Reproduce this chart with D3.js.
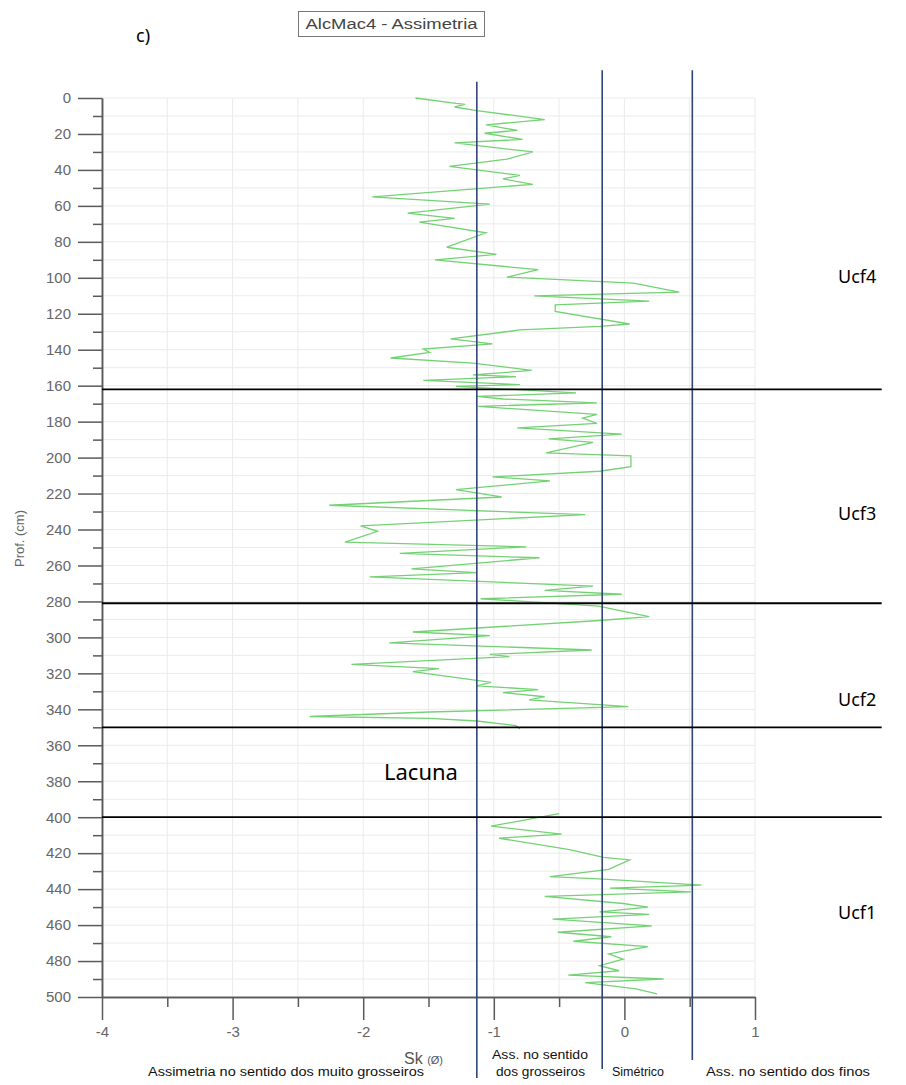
<!DOCTYPE html>
<html>
<head>
<meta charset="utf-8">
<title>AlcMac4 - Assimetria</title>
<script src="https://d3js.org/d3.v7.min.js"></script>
<style>
  body { margin: 0; background: #fff; }
</style>
</head>
<body>
<div id="chart"></div>
<script>
// profundidade (cm) e assimetria Sk - trecho superior (Ucf4..Ucf2)
const depthTop = [0,3,3.5,5,7,12,15,18,19.6,23,25,30,34,38,43,45,48,55,59,64,67,69,75,83,87,90,95.5,99.6,
  103,108,110,113,115,118.7,125.7,127,129,134,136.7,139.6,141.5,144.6,147.4,151.5,154,155,157,159.4,160.4,
  164,166,167.4,169.6,171.5,176,178,181,183.5,187,189.6,191.5,197.4,199,205,207.6,210.7,213,217.8,221.9,
  226.5,231.7,238,241,247,249.6,253.3,255.7,261.9,264,266.3,271.5,273.9,276,278.5,282.6,288.5,290.6,297,
  299,303,307,309.4,310.7,315,317.4,319,325,327,329,330.7,333,334.8,338.5,341.5,344,345,346.5,349,351];
const skTop = [-1.60,-1.29,-1.22,-1.30,-1.13,-0.61,-1.06,-0.82,-1.07,-0.78,-1.30,-0.70,-0.90,-1.34,-0.80,-0.93,
  -0.70,-1.93,-1.03,-1.66,-1.30,-1.57,-1.06,-1.36,-0.98,-1.45,-0.66,-0.90,
  0.07,0.42,-0.69,0.19,-0.53,-0.53,0.04,-0.19,-0.80,-1.33,-1.01,-1.54,-1.49,-1.79,-1.16,-0.71,-1.16,-0.83,
  -1.54,-0.80,-1.29,-0.37,-1.13,-0.93,-0.21,-1.12,-0.21,-0.32,-0.21,-0.82,-0.02,-0.58,-0.24,-0.60,0.05,0.05,
  -0.19,-1.01,-0.57,-1.29,-0.94,-2.26,-0.30,-2.02,-1.89,-2.14,-0.75,-1.72,-0.65,-1.63,-1.13,-1.95,-0.24,
  -0.61,-0.02,-1.10,-0.20,0.19,-0.19,-1.62,-1.03,-1.80,-0.25,-1.03,-0.88,-2.09,-1.42,-1.62,-1.02,-1.13,
  -0.66,-0.93,-0.61,-0.73,0.03,-1.49,-2.41,-1.49,-1.13,-0.83,-0.80];

// trecho inferior (Ucf1)
const depthBottom = [398,405,409.4,411.7,418,422.4,423.7,429,433,434.4,437.8,439.4,441.5,444,448,450,452.6,
  454,456.7,460.4,464,466.5,469,472,476,479,482.6,485.4,487.8,490,492,495.5,498.3];
const skBottom = [-0.50,-1.02,-0.48,-0.96,-0.42,-0.16,0.04,-0.12,-0.57,-0.16,0.59,-0.11,0.51,-0.61,-0.01,0.18,
  -0.19,0.19,-0.55,0.21,-0.51,-0.10,-0.39,0.18,-0.12,-0.01,-0.19,-0.04,-0.43,0.30,-0.30,0.09,0.25];

// limites de classe (linhas azuis) e limites das unidades (linhas pretas)
const classLimits = [-1.13, -0.17, 0.52];
const classTop = [-9, -15.5, -15.5];
const classBottom = [545, 540, 535];
const unitLimits = [162, 281, 350, 400];
const unitNames = ["Ucf4", "Ucf3", "Ucf2", "Ucf1"];
const unitLabelDepth = [99, 231, 334, 453];

const xTicks = [-4, -3, -2, -1, 0, 1];
const yTicks = d3.range(0, 501, 20);

const W = 906, H = 1085;
const svg = d3.select("#chart").append("svg")
    .attr("width", W).attr("height", H)
    .style("font-family", "'Liberation Sans', Arial, sans-serif");

const x = d3.scaleLinear().domain([-4, 1]).range([102, 755]);
const y = d3.scaleLinear().domain([0, 500]).range([98, 997]);

// grade
svg.append("g").selectAll("line")
    .data(d3.range(-4, 1.01, 0.5))
    .join("line")
    .attr("x1", d => x(d)).attr("x2", d => x(d))
    .attr("y1", y(0)).attr("y2", y(500))
    .attr("stroke", "#ebebeb");
svg.append("g").selectAll("line")
    .data(d3.range(0, 501, 10))
    .join("line")
    .attr("x1", x(-4)).attr("x2", x(1))
    .attr("y1", d => y(d)).attr("y2", d => y(d))
    .attr("stroke", "#ebebeb");

// eixos
const axisColor = "#5a5a5a";
function styleAxis(g) {
  g.select(".domain").attr("stroke", axisColor).attr("stroke-width", 1.5);
  g.selectAll(".tick line").attr("stroke", axisColor).attr("stroke-width", 1.5);
  g.selectAll(".tick text").attr("fill", "#666").attr("font-size", "15px")
    .attr("font-family", "'Liberation Sans', Arial, sans-serif");
}
svg.append("g")
    .attr("transform", "translate(" + x(-4) + ",0)")
    .call(d3.axisLeft(y).tickValues(d3.range(10, 500, 20)).tickSize(9).tickFormat("").tickSizeOuter(0))
    .call(styleAxis);
svg.append("g")
    .attr("transform", "translate(" + x(-4) + ",0)")
    .call(d3.axisLeft(y).tickValues(yTicks).tickSize(24).tickPadding(7).tickSizeOuter(0))
    .call(styleAxis);
svg.append("g")
    .attr("transform", "translate(0," + y(500) + ")")
    .call(d3.axisBottom(x).tickValues(d3.range(-3.5, 1, 1)).tickSize(10).tickFormat("").tickSizeOuter(0))
    .call(styleAxis);
svg.append("g")
    .attr("transform", "translate(0," + y(500) + ")")
    .call(d3.axisBottom(x).tickValues(xTicks).tickSize(23).tickPadding(6).tickSizeOuter(0)
      .tickFormat(d => d < 0 ? "-" + Math.abs(d) : d))
    .call(styleAxis);

svg.append("text")
    .attr("transform", "translate(24," + y(245) + ") rotate(-90)")
    .attr("text-anchor", "middle")
    .attr("fill", "#666").attr("font-size", "13px")
    .text("Prof. (cm)");

// curva de assimetria
const line = d3.line().x(d => x(d[1])).y(d => y(d[0]));
[[depthTop, skTop], [depthBottom, skBottom]].forEach(([dep, sk]) => {
  svg.append("path")
      .datum(dep.map((d, i) => [d, sk[i]]))
      .attr("d", line)
      .attr("fill", "none")
      .attr("stroke", "#74d274")
      .attr("stroke-width", 1.3);
});

// linhas azuis
svg.append("g").selectAll("line")
    .data(classLimits)
    .join("line")
    .attr("x1", d => x(d)).attr("x2", d => x(d))
    .attr("y1", (d, i) => y(classTop[i])).attr("y2", (d, i) => y(classBottom[i]))
    .attr("stroke", "#2e4677").attr("stroke-width", 1.6);

// limites das unidades
svg.append("g").selectAll("line")
    .data(unitLimits)
    .join("line")
    .attr("x1", x(-4)).attr("x2", x(1.97))
    .attr("y1", d => y(d)).attr("y2", d => y(d))
    .attr("stroke", "#000").attr("stroke-width", 1.8);

svg.append("g").selectAll("text")
    .data(unitNames)
    .join("text")
    .attr("x", 838)
    .attr("y", (d, i) => y(unitLabelDepth[i]) + 7)
    .attr("font-family", "'Noto Sans', 'Open Sans', sans-serif")
    .attr("font-size", "18px")
    .text(d => d);

svg.append("text")
    .attr("x", 384).attr("y", y(375) + 8)
    .attr("font-family", "'Noto Sans', 'Open Sans', sans-serif")
    .attr("font-size", "22px")
    .text("Lacuna");

svg.append("text")
    .attr("x", 136).attr("y", 42)
    .attr("font-family", "'Noto Sans', 'Open Sans', sans-serif")
    .attr("font-size", "18px")
    .text("c)");

// titulo em caixa
svg.append("rect")
    .attr("x", 298.5).attr("y", 11.5).attr("width", 186).attr("height", 25)
    .attr("fill", "#fff").attr("stroke", "#777");
svg.append("text")
    .attr("x", 391.5).attr("y", 29)
    .attr("text-anchor", "middle")
    .attr("fill", "#444").attr("font-size", "14px")
    .attr("textLength", 172).attr("lengthAdjust", "spacingAndGlyphs")
    .text("AlcMac4 - Assimetria");

// titulo do eixo x e classes
const sk = svg.append("text").attr("x", 404).attr("y", 1064).attr("fill", "#555");
sk.append("tspan").attr("font-size", "16px").text("Sk ");
sk.append("tspan").attr("font-size", "11px").text("(Ø)");

const classText = [
  {t: "Assimetria no sentido dos muito grosseiros", x: 148, y: 1076, w: 276},
  {t: "Ass. no sentido", x: 492, y: 1059, w: 96},
  {t: "dos grosseiros", x: 496, y: 1076, w: 89},
  {t: "Simétrico", x: 612, y: 1076, w: 52},
  {t: "Ass. no sentido dos finos", x: 706, y: 1076, w: 164}
];
svg.append("g").selectAll("text")
    .data(classText)
    .join("text")
    .attr("x", d => d.x).attr("y", d => d.y)
    .attr("font-size", "12px").attr("fill", "#111")
    .attr("textLength", d => d.w).attr("lengthAdjust", "spacingAndGlyphs")
    .text(d => d.t);
</script>
</body>
</html>
